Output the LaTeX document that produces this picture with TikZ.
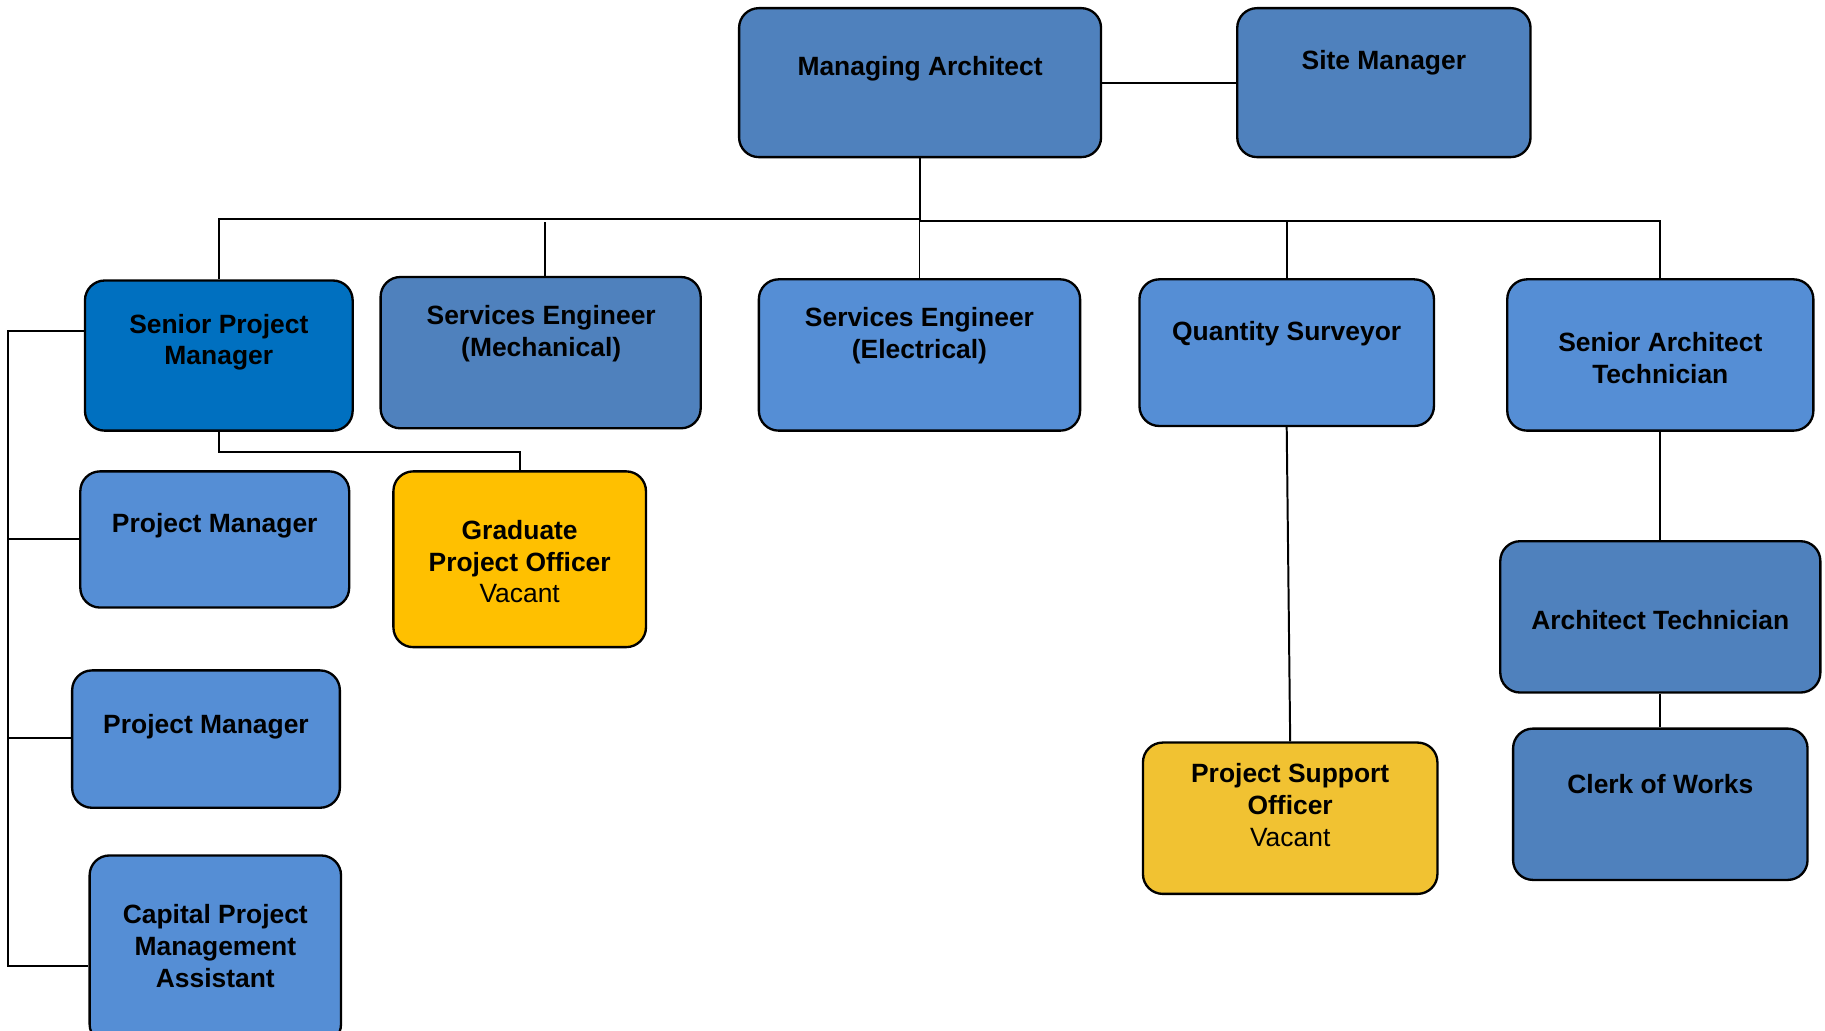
\documentclass[tikz,border=0pt]{standalone}
\usepackage{fontspec}
\setmainfont{Liberation Sans}
\usetikzlibrary{fit}
\definecolor{mablue}{HTML}{4F81BD}
\definecolor{spmblue}{HTML}{0070C0}
\definecolor{ltblue}{HTML}{558ED5}
\definecolor{gold}{HTML}{FFC000}
\definecolor{mustard}{HTML}{F1C232}
\tikzset{
  orgbox/.style={draw=black, line width=2pt, rounded corners=17pt, inner sep=0pt},
  txt/.style={font=\fontsize{22.7}{27.4}\selectfont\bfseries, align=center, inner sep=0pt, yshift=-2pt},
  link/.style={draw=black, line width=1.7pt}
}
\begin{document}
\begin{tikzpicture}[x=1pt,y=-1pt]
\useasboundingbox (0,0) rectangle (1568,885);
\clip (0,0) rectangle (1568,885);
% boxes
\node[orgbox, fill=mablue,  fit={(635,7) (946,135)}] (ma) {};
\node[orgbox, fill=mablue,  fit={(1063,7) (1315,135)}] (sm) {};
\node[orgbox, fill=spmblue, fit={(73,241) (303,370)}] (spm) {};
\node[orgbox, fill=mablue,  fit={(327,238) (602,368)}] (sem) {};
\node[orgbox, fill=ltblue,  fit={(652,240) (928,370)}] (see) {};
\node[orgbox, fill=ltblue,  fit={(979,240) (1232,366)}] (qs) {};
\node[orgbox, fill=ltblue,  fit={(1295,240) (1558,370)}] (sat) {};
\node[orgbox, fill=ltblue,  fit={(69,405) (300,522)}] (pm1) {};
\node[orgbox, fill=gold,    fit={(338,405) (555,556)}] (gpo) {};
\node[orgbox, fill=ltblue,  fit={(62,576) (292,694)}] (pm2) {};
\node[orgbox, fill=ltblue,  fit={(77,735) (293,897)}] (cpma) {};
\node[orgbox, fill=mablue,  fit={(1289,465) (1564,595)}] (at) {};
\node[orgbox, fill=mablue,  fit={(1300,626) (1553,756)}] (cow) {};
\node[orgbox, fill=mustard, fit={(982,638) (1235,768)}] (pso) {};
% texts
\node[txt] (ma-t) at (790.5,57) {Managing Architect};
\node[txt] (sm-t) at (1189,52) {Site Manager};
\node[txt] (spm-t) at (188,292) {Senior Project\\Manager};
\node[txt] (sem-t) at (465,285) {Services Engineer\\(Mechanical)};
\node[txt] (see-t) at (790,286.5) {Services Engineer\\(Electrical)};
\node[txt] (qs-t) at (1105.5,285) {Quantity Surveyor};
\node[txt] (sat-t) at (1426.5,305.5) {Senior Architect\\Technician};
\node[txt] (pm1-t) at (184.5,450) {Project Manager};
\node[txt] (gpo-t) at (446.5,480.5) {Graduate\\Project Officer\\{\mdseries Vacant}};
\node[txt] (pm2-t) at (177,622) {Project Manager};
\node[txt] (cpma-t) at (185,810.5) {Capital Project\\Management\\Assistant};
\node[txt] (at-t) at (1426.5,531) {Architect Technician};
\node[txt] (cow-t) at (1426.5,672) {Clerk of Works};
\node[txt] (pso-t) at (1108.5,689.5) {Project Support\\Officer\\{\mdseries Vacant}};
% connectors
\coordinate (bl) at (790.5,188);
\coordinate (br) at (790.5,190);
\coordinate (mech) at (468,191);
\draw[link] (ma.east) -- (sm.west);
\draw[link] (ma.south) -- (br);
\draw[link] (bl) -| (spm.north);
\draw[link] (br) -| (sat.north);
\draw[link] (mech) -- (mech |- sem.north);
\draw[link] (br -| see.north) -- (see.north);
\draw[link] (br -| qs.north) -- (qs.north);
\draw[link] (spm.south) -- ++(0,17) -| (gpo.north);
\coordinate (k1) at (7,284);
\coordinate (k2) at (7,463);
\coordinate (k3) at (7,634);
\coordinate (k4) at (7,830);
\draw[link] (spm.west |- k1) -- (k1) -- (k4) -- (cpma.west |- k4);
\draw[link] (k2) -- (pm1.west |- k2);
\draw[link] (k3) -- (pm2.west |- k3);
\draw[link] (qs.south) -- (pso.north);
\draw[link] (sat.south) -- (at.north);
\draw[link] (at.south) -- (cow.north);
\end{tikzpicture}
\end{document}
